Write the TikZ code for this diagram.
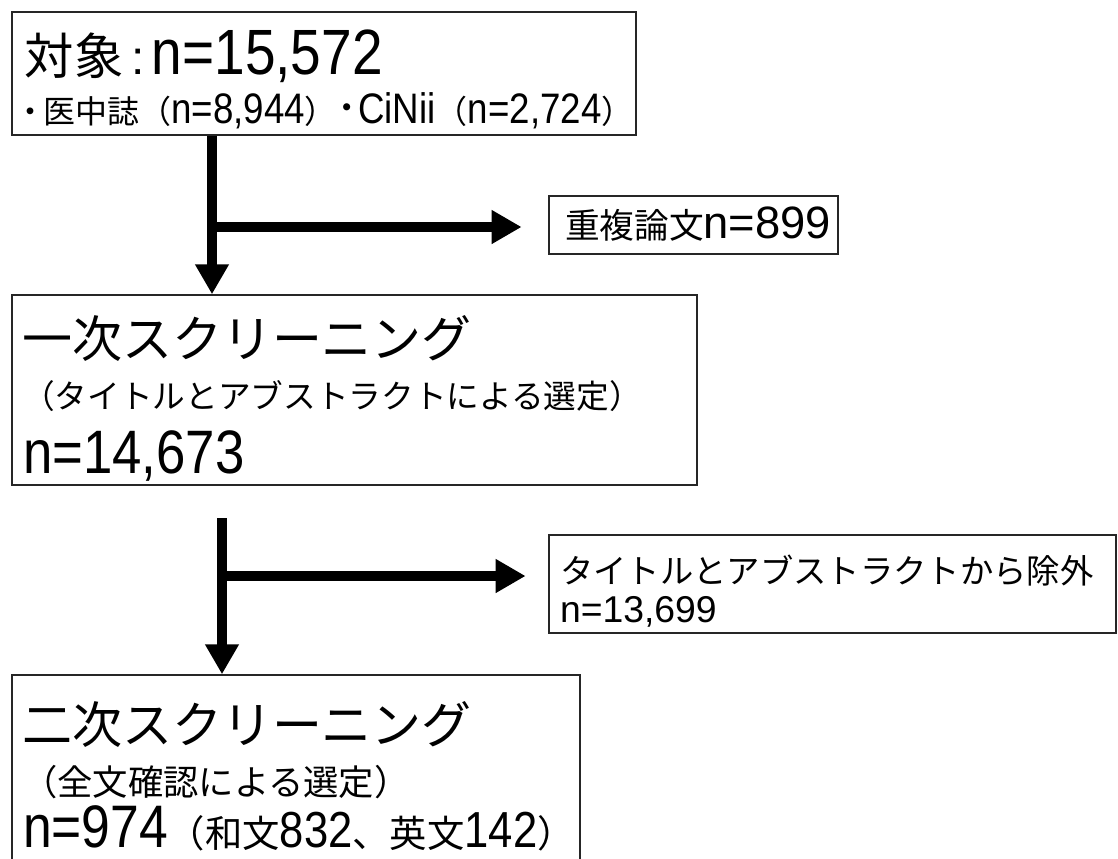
\documentclass[tikz,border=0pt]{standalone}
\usepackage{fontspec}
\setmainfont{Liberation Sans}
\newfontfamily\latn[FakeStretch=0.86]{Liberation Sans}
\newfontfamily\jpf{Noto Sans CJK JP}
\usetikzlibrary{arrows.meta,fit}
\newcommand\lt[1]{\latn\fontsize{#1pt}{#1pt}\selectfont}
\newcommand\lw[1]{\rmfamily\fontsize{#1pt}{#1pt}\selectfont}
\newcommand\jt[1]{\jpf\fontsize{#1pt}{#1pt}\selectfont}
\begin{document}
\begin{tikzpicture}[x=0.75pt,y=-0.75pt,
  box/.style={draw=black!85, line width=1.1pt, inner sep=0pt},
  txt/.style={anchor=base west, inner sep=0pt, outer sep=0pt},
  flow/.style={line width=7.5pt, -{Triangle[length=22.5pt,width=24pt]}}]
\useasboundingbox (0,0) rectangle (1118,858);
\clip (0,0) rectangle (1118,858);
\fill[white] (0,0) rectangle (1118,858);
% boxes
\node[box, fit={(12,12)(636,135)}] (b1) {};
\node[box, fit={(549,196)(838,254)}] (dup) {};
\node[box, fit={(12,295)(697,485)}] (b2) {};
\node[box, fit={(549,535)(1116,633)}] (ex) {};
\node[box, fit={(12,675)(580,880)}] (b4) {};
% texts
\node[txt] (t1a) at (25,74) {{\jt{37}対象}\hspace{6pt}{\lw{36}:}\hspace{5pt}{\lt{48}n=15,572}};
\node[txt] (t1b) at (22,123) {{\jt{24}\hspace{-6pt}・\hspace{-2pt}医中誌（}{\lt{32}n=8,944}{\jt{24}）}{\jt{32}･}{\lt{32}CiNii}{\jt{24}（}{\lt{32}n=2,724}{\jt{24}）}};
\node[txt] (tdup) at (565,238) {{\jt{26}重複論文}{\lw{34}n=899}};
\node[txt] (t2a) at (22,357) {\jt{37.5}一次スクリーニング};
\node[txt] (t2b) at (22,408) {\jt{24.5}（タイトルとアブストラクトによる選定）};
\node[txt] (t2c) at (23,473) {\lt{46}n=14,673};
\node[txt] (tex1) at (560,583) {\jt{25}タイトルとアブストラクトから除外};
\node[txt] (tex2) at (560,622) {\lw{28}n=13,699};
\node[txt] (t4a) at (22,743) {\jt{37.5}二次スクリーニング};
\node[txt] (t4b) at (22,795) {\jt{26.5}（全文確認による選定）};
\node[txt] (t4c) at (23,847) {{\lt{45}n=974}{\jt{28}（和文}{\lt{38}832}{\jt{28}、英文}{\lt{38}142}{\jt{28}）}};
% connectors
\coordinate (v1) at (212,0);
\coordinate (j1) at (212,227);
\coordinate (s2) at (222,518);
\coordinate (j2) at (222,576);
\draw[flow] (b1.south -| v1) -- (b2.north -| v1);
\draw[flow, shorten >=20pt] (j1) -- (j1 -| dup.west);
\draw[flow] (s2) -- (s2 |- b4.north);
\draw[flow, shorten >=17pt] (j2) -- (j2 -| ex.west);
\end{tikzpicture}
\end{document}
